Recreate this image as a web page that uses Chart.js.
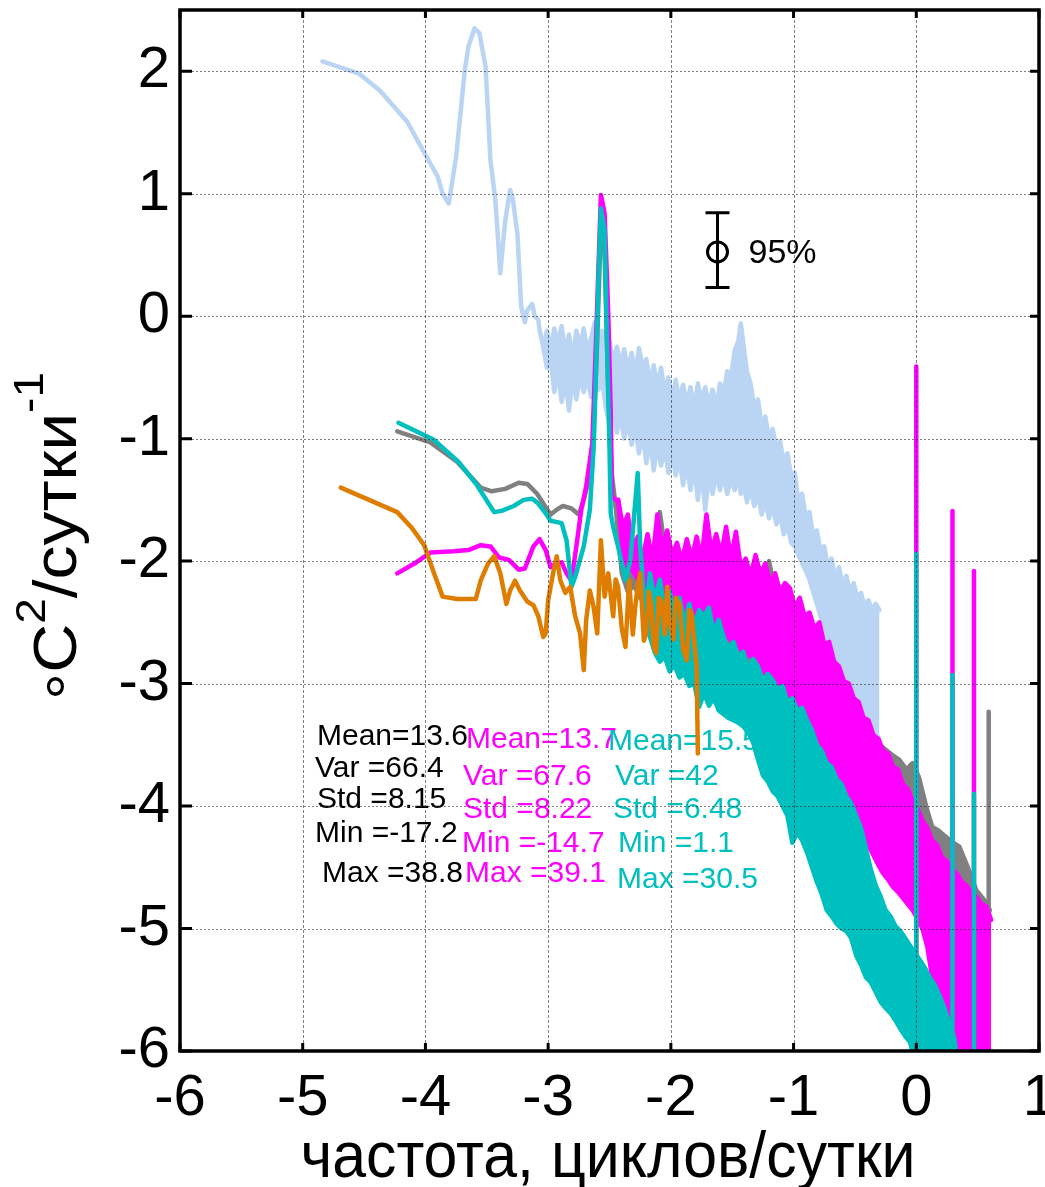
<!DOCTYPE html>
<html>
<head>
<meta charset="utf-8">
<script src="https://cdn.jsdelivr.net/npm/chart.js@4.4.1/dist/chart.umd.min.js"></script>
<style>
  html, body { margin: 0; padding: 0; background: #fff; }
  canvas { display: block; }
</style>
</head>
<body>
<canvas id="spec" width="1045" height="1187"></canvas>
<script>
"use strict";

// ─── Data (log10 frequency vs log10 spectral density) ────────────────────────

const xTicks = [-6, -5, -4, -3, -2, -1, 0, 1];
const yTicks = [-6, -5, -4, -3, -2, -1, 0, 1, 2];
const Y_MIN = -6, Y_MAX = 2.5, X_MIN = -6, X_MAX = 1;

// light blue: smooth low-frequency part, then noisy band (upper / lower edge)
const lbX = [-4.84,-4.54,-4.37,-4.15,-3.99,-3.90,-3.86,-3.81,-3.75,-3.68,-3.65,-3.60,-3.56,-3.51,-3.47,-3.43,-3.39,-3.35,-3.31,-3.29,-3.25,-3.22,-3.19,-3.17,-3.13,-3.11,-3.08,-3.07,-3.04];
const lbY = [2.08,1.98,1.84,1.59,1.30,1.14,1.00,0.92,1.30,2.00,2.20,2.35,2.31,2.04,1.27,0.95,0.35,0.78,1.03,0.97,0.67,0.08,-0.05,0.05,0.10,0.00,-0.03,-0.11,-0.25];
const lbBandX = [-3.04,-3.01,-2.98,-2.95,-2.92,-2.89,-2.86,-2.83,-2.80,-2.77,
                 -2.74,-2.71,-2.68,-2.65,-2.62,-2.59,-2.56,-2.53,-2.50,-2.47,
                 -2.44,-2.41,-2.38,-2.35,-2.32,-2.29,-2.26,-2.23,-2.20,-2.17,
                 -2.14,-2.11,-2.08,-2.05,-2.02,-1.99,-1.96,-1.93,-1.90,-1.87,
                 -1.84,-1.81,-1.78,-1.75,-1.72,-1.69,-1.66,-1.63,-1.60,-1.57,
                 -1.54,-1.51,-1.48,-1.45,-1.43,-1.41,-1.38,-1.35,-1.32,-1.29,
                 -1.26,-1.23,-1.20,-1.17,-1.14,-1.11,-1.08,-1.05,-1.02,-0.99,
                 -0.96,-0.93,-0.90,-0.87,-0.84,-0.81,-0.78,-0.75,-0.72,-0.69,
                 -0.66,-0.63,-0.60,-0.57,-0.54,-0.51,-0.48,-0.45,-0.42,-0.39,
                 -0.36,-0.33,-0.30];
const lbHi = [-0.25,-0.12,-0.28,-0.10,-0.22,-0.08,-0.30,-0.15,-0.35,-0.12,
              -0.25,-0.10,-0.30,-0.18,-0.05,-0.20,-0.12,-0.32,-0.20,-0.38,
              -0.25,-0.40,-0.27,-0.45,-0.30,-0.48,-0.26,-0.42,-0.35,-0.55,
              -0.40,-0.58,-0.42,-0.62,-0.50,-0.68,-0.52,-0.70,-0.56,-0.72,
              -0.58,-0.75,-0.55,-0.70,-0.58,-0.72,-0.60,-0.75,-0.55,-0.62,
              -0.45,-0.50,-0.28,-0.20,-0.06,-0.22,-0.45,-0.55,-0.75,-0.68,
              -0.90,-0.82,-1.00,-0.92,-1.08,-1.02,-1.20,-1.12,-1.30,-1.28,
              -1.52,-1.45,-1.65,-1.60,-1.80,-1.75,-1.92,-1.88,-2.05,-1.98,
              -2.15,-2.05,-2.20,-2.12,-2.25,-2.18,-2.30,-2.26,-2.38,-2.32,
              -2.40,-2.35,-2.40];
const lbLo = [-0.25,-0.42,-0.35,-0.62,-0.45,-0.70,-0.52,-0.77,-0.50,-0.68,
              -0.48,-0.62,-0.50,-0.66,-0.55,-0.60,-0.52,-0.75,-0.88,-0.70,
              -0.95,-0.80,-1.00,-0.85,-1.05,-0.90,-1.12,-0.95,-1.20,-1.00,
              -1.26,-1.05,-1.22,-1.08,-1.28,-1.12,-1.30,-1.15,-1.38,-1.20,
              -1.42,-1.22,-1.50,-1.25,-1.58,-1.30,-1.45,-1.28,-1.42,-1.30,
              -1.45,-1.32,-1.42,-1.30,-1.45,-1.35,-1.52,-1.40,-1.55,-1.45,
              -1.62,-1.50,-1.65,-1.55,-1.70,-1.62,-1.78,-1.70,-1.85,-1.88,
              -1.95,-2.02,-2.08,-2.15,-2.25,-2.35,-2.45,-2.55,-2.65,-2.75,
              -2.82,-2.90,-2.95,-3.00,-3.05,-3.10,-3.15,-3.20,-3.25,-3.30,
              -3.35,-3.40,-3.46];

// gray
const grayX = [-4.23,-3.96,-3.74,-3.55,-3.46,-3.35,-3.24,-3.17,-3.09,-3.02,-2.98,-2.93,-2.88,-2.81,-2.75,-2.71,-2.67,-2.63,-2.60,-2.57,-2.54,-2.51,-2.48,-2.45];
const grayY = [-0.94,-1.03,-1.19,-1.40,-1.43,-1.41,-1.36,-1.37,-1.45,-1.56,-1.62,-1.58,-1.55,-1.57,-1.62,-1.50,-1.34,-0.96,-0.20,0.75,0.50,-0.60,-1.30,-1.55];
const grayBandX = [-2.45,-2.40,-2.35,-2.30,-2.25,-2.20,-2.15,-2.09,-2.04,-1.98,
                   -1.90,-1.80,-1.70,-1.60,-1.50,-1.40,-1.30,-1.20,-1.10,-1.00,
                   -0.90,-0.80,-0.70,-0.60,-0.50,-0.40,-0.30,-0.20,-0.14,-0.08,
                   -0.03,0.02,0.08,0.13,0.18,0.24,0.30,0.35,0.42,0.49,
                   0.54,0.57,0.60];
const grayHi = [-1.55,-1.75,-1.70,-1.85,-1.95,-1.90,-2.00,-1.60,-1.95,-2.00,
                -1.95,-2.05,-2.10,-2.05,-2.15,-2.25,-2.35,-2.00,-2.50,-2.60,
                -2.75,-2.90,-3.05,-3.15,-3.30,-3.40,-3.50,-3.58,-3.62,-3.70,
                -3.65,-3.76,-4.00,-4.17,-4.20,-4.25,-4.30,-4.33,-4.50,-4.69,
                -4.75,-4.79,-4.85];
const grayLo = [-1.55,-2.10,-2.25,-2.20,-2.30,-2.35,-2.40,-2.45,-2.50,-2.55,
                -2.60,-2.70,-2.75,-2.80,-2.85,-2.90,-2.95,-3.00,-3.10,-3.20,
                -3.30,-3.45,-3.65,-3.85,-4.05,-4.25,-4.40,-4.55,-4.60,-4.70,
                -4.75,-4.80,-4.85,-4.90,-4.92,-4.95,-4.95,-4.95,-4.95,-4.95,
                -4.95,-4.95,-4.90];
const graySpikeX = [0.59];
const graySpikeTop = [-3.23];

// magenta
const magX = [-4.23,-4.09,-3.96,-3.77,-3.65,-3.55,-3.47,-3.40,-3.32,-3.24,-3.19,-3.12,-3.07,-3.02,-2.98,-2.94,-2.89,-2.85,-2.81,-2.77,-2.73,-2.69,-2.64,-2.61,-2.57,-2.54,-2.51,-2.49,-2.48,-2.45,-2.43];
const magY = [-2.10,-2.02,-1.93,-1.92,-1.91,-1.87,-1.88,-1.97,-1.99,-2.07,-2.06,-1.88,-1.82,-1.91,-2.05,-2.02,-2.01,-2.10,-2.16,-1.88,-1.58,-1.39,-1.04,-0.20,0.99,0.84,0.02,-0.79,-1.47,-1.50,-1.50];
const magBandX = [-2.43,-2.39,-2.35,-2.31,-2.27,-2.23,-2.19,-2.15,-2.11,-2.07,
                  -2.03,-1.99,-1.95,-1.91,-1.87,-1.83,-1.79,-1.75,-1.71,-1.67,
                  -1.63,-1.59,-1.55,-1.51,-1.47,-1.43,-1.39,-1.35,-1.31,-1.27,
                  -1.23,-1.19,-1.15,-1.11,-1.07,-1.03,-0.99,-0.95,-0.91,-0.87,
                  -0.83,-0.79,-0.75,-0.71,-0.67,-0.63,-0.59,-0.55,-0.51,-0.47,
                  -0.43,-0.39,-0.35,-0.31,-0.27,-0.23,-0.19,-0.15,-0.11,-0.07,
                  -0.03,0.01,0.05,0.09,0.13,0.17,0.21,0.25,0.29,0.33,
                  0.37,0.41,0.45,0.49,0.53,0.57,0.61];
const magHi = [-1.50,-1.72,-1.62,-1.95,-1.80,-1.98,-1.78,-2.00,-1.62,-1.90,
               -1.75,-1.95,-1.85,-2.00,-1.82,-1.98,-1.80,-1.98,-1.62,-1.92,
               -1.78,-1.95,-1.72,-1.98,-1.76,-2.05,-1.98,-2.12,-1.95,-2.10,
               -2.02,-2.18,-2.10,-2.25,-2.18,-2.22,-2.38,-2.30,-2.45,-2.42,
               -2.55,-2.50,-2.68,-2.66,-2.82,-2.86,-2.98,-3.00,-3.12,-3.15,
               -3.28,-3.30,-3.42,-3.45,-3.55,-3.57,-3.68,-3.70,-3.82,-3.86,
               -3.96,-4.02,-4.12,-4.18,-4.28,-4.32,-4.42,-4.45,-4.52,-4.55,
               -4.62,-4.65,-4.72,-4.74,-4.80,-4.82,-4.93];
const magLo = [-1.50,-1.95,-2.05,-2.08,-2.15,-2.22,-2.18,-2.28,-2.25,-2.32,
               -2.35,-2.30,-2.40,-2.38,-2.45,-2.42,-2.48,-2.45,-2.55,-2.52,
               -2.60,-2.58,-2.65,-2.62,-2.70,-2.72,-2.78,-2.76,-2.85,-2.82,
               -2.92,-2.95,-3.02,-3.05,-3.12,-3.18,-3.25,-3.30,-3.38,-3.45,
               -3.50,-3.58,-3.65,-3.72,-3.80,-3.88,-3.95,-4.02,-4.10,-4.18,
               -4.25,-4.32,-4.40,-4.48,-4.55,-4.60,-4.66,-4.70,-4.75,-4.80,
               -4.85,-4.92,-5.00,-5.15,-5.40,-5.45,-5.52,-5.62,-5.77,-5.92,
               -6.20,-6.20,-6.20,-6.20,-6.20,-6.20,-6.20];
const magSpikeX = [0, 0.295, 0.47];
const magSpikeTop = [-0.41, -1.59, -2.08];

// cyan
const cyanX = [-4.22,-3.93,-3.73,-3.58,-3.44,-3.38,-3.28,-3.20,-3.13,-3.08,-3.02,-2.98,-2.89,-2.85,-2.81,-2.78,-2.71,-2.66,-2.63,-2.62,-2.59,-2.57,-2.54,-2.52,-2.50,-2.49,-2.47,-2.43,-2.37,-2.33,-2.27,-2.25,-2.21];
const cyanY = [-0.87,-1.01,-1.19,-1.38,-1.60,-1.59,-1.55,-1.50,-1.49,-1.53,-1.61,-1.67,-1.69,-1.83,-2.21,-2.13,-1.88,-1.58,-1.09,-0.79,0.29,0.88,0.70,-0.25,-1.07,-1.61,-1.72,-1.88,-2.16,-1.99,-1.28,-1.88,-2.43];
const cyanBandX = [-2.21,-2.17,-2.13,-2.09,-2.05,-2.01,-1.97,-1.93,-1.89,-1.85,
                   -1.81,-1.77,-1.73,-1.69,-1.65,-1.61,-1.57,-1.53,-1.49,-1.45,
                   -1.41,-1.37,-1.33,-1.29,-1.25,-1.21,-1.17,-1.13,-1.09,-1.05,
                   -1.01,-0.97,-0.93,-0.89,-0.85,-0.81,-0.77,-0.73,-0.69,-0.65,
                   -0.61,-0.57,-0.53,-0.49,-0.45,-0.41,-0.37,-0.33,-0.29,-0.25,
                   -0.21,-0.17,-0.13,-0.09,-0.05,-0.01,0.03,0.07,0.11,0.15,
                   0.19,0.23,0.27,0.31,0.35];
const cyanHi = [-2.43,-2.10,-2.32,-2.15,-2.40,-2.25,-2.45,-2.30,-2.50,-2.35,
                -2.52,-2.40,-2.45,-2.38,-2.58,-2.48,-2.62,-2.72,-2.66,-2.78,
                -2.74,-2.88,-2.80,-2.86,-2.98,-2.92,-2.97,-3.05,-3.02,-3.15,
                -3.12,-3.22,-3.20,-3.30,-3.38,-3.50,-3.55,-3.65,-3.68,-3.78,
                -3.82,-3.92,-3.98,-4.08,-4.18,-4.35,-4.52,-4.65,-4.74,-4.85,
                -4.90,-4.98,-5.02,-5.08,-5.14,-5.20,-5.26,-5.32,-5.40,-5.46,
                -5.55,-5.65,-5.78,-5.90,-6.20];
const cyanLo = [-2.43,-2.62,-2.75,-2.82,-2.78,-2.90,-2.85,-2.95,-2.92,-3.02,
                -3.00,-3.19,-3.08,-3.18,-3.12,-3.22,-3.25,-3.28,-3.30,-3.32,
                -3.35,-3.40,-3.48,-3.62,-3.75,-3.80,-3.88,-3.92,-4.00,-4.08,
                -4.30,-4.22,-4.28,-4.38,-4.50,-4.62,-4.72,-4.85,-4.90,-4.96,
                -5.00,-5.02,-5.08,-5.22,-5.30,-5.40,-5.44,-5.52,-5.60,-5.65,
                -5.69,-5.75,-5.82,-5.88,-5.93,-6.10,-6.20,-6.20,-6.20,-6.20,
                -6.20,-6.20,-6.20,-6.20,-6.20];
const cyanSpikeX = [0, 0.295, 0.47];
const cyanSpikeTop = [-1.94, -2.93, -3.90];

// orange
const orangeX = [-4.69,-4.23,-4.11,-4.01,-3.93,-3.86,-3.74,-3.59,-3.55,-3.49,
                 -3.44,-3.39,-3.34,-3.31,-3.27,-3.23,-3.17,-3.12,-3.08,-3.04,
                 -3.02,-3.00,-2.96,-2.93,-2.90,-2.86,-2.82,-2.78,-2.74,-2.71,
                 -2.69,-2.66,-2.63,-2.60,-2.57,-2.54,-2.51,
                 -2.47,-2.45,-2.43,-2.40,-2.37,-2.34,-2.31,-2.29,-2.27,-2.25,
                 -2.22,-2.20,-2.18,-2.16,-2.14,-2.12,-2.10,-2.08,-2.05,-2.03,
                 -2.01,-1.98,-1.96,-1.93,-1.90,-1.87,-1.85,-1.83,-1.81,-1.79,
                 -1.78];
const orangeY = [-1.40,-1.60,-1.73,-1.87,-2.10,-2.29,-2.31,-2.31,-2.16,-2.02,
                 -1.96,-2.10,-2.35,-2.24,-2.16,-2.24,-2.33,-2.36,-2.45,-2.62,
                 -2.59,-2.32,-2.10,-1.96,-2.16,-2.26,-2.21,-2.45,-2.59,-2.89,
                 -2.48,-2.24,-2.37,-2.59,-1.83,-2.29,-2.10,
                 -2.45,-2.15,-2.21,-2.55,-2.70,-2.16,-2.60,-2.37,-2.20,-2.10,
                 -2.65,-2.59,-2.25,-2.35,-2.70,-2.75,-2.30,-2.32,-2.60,-2.21,
                 -2.50,-2.64,-2.30,-2.35,-2.72,-2.81,-2.40,-2.43,-2.65,-2.86,
                 -3.57];

// 95% confidence bar
const ebX = [-1.62];
const ebY = [0.525];
const ebLow = [0.235];
const ebHigh = [0.845];

// statistics blocks
const statsBlack   = ["Mean=13.6", "Var =66.4", "Std =8.15", "Min =-17.2", "Max =38.8"];
const statsMagenta = ["Mean=13.7", "Var =67.6", "Std =8.22", "Min =-14.7", "Max =39.1"];
const statsCyan    = ["Mean=15.5", "Var =42",   "Std =6.48", "Min =1.1",   "Max =30.5"];

const xTitle = "частота, циклов/сутки";

// ─── Styles ──────────────────────────────────────────────────────────────────

const C_LB     = "rgb(186,212,243)";
const C_GRAY   = "rgb(128,128,128)";
const C_MAG    = "rgb(255,0,255)";
const C_CYAN   = "rgb(0,191,191)";
const C_ORANGE = "rgb(222,125,0)";
const FONT     = '"Liberation Sans", Arial, sans-serif';
const LW       = 4.5;

// ─── Dataset helpers ─────────────────────────────────────────────────────────

function pts(xs, ys) {
    return xs.map(function(x, i) { return { x: x, y: ys[i] }; });
}

function lineSet(data, color, order) {
    return {
        data: data, borderColor: color, backgroundColor: color,
        borderWidth: LW, pointRadius: 0, tension: 0, fill: false,
        borderJoinStyle: "round", borderCapStyle: "round", order: order
    };
}

// upper edge filled down to the next dataset (lower edge)
function bandSets(xs, hi, lo, color, order) {
    var top = lineSet(pts(xs, hi), color, order);
    top.fill = "+1";
    var bottom = lineSet(pts(xs, lo), color, order);
    return [top, bottom];
}

function spikeSet(xs, tops, color, order) {
    var d = [];
    xs.forEach(function(x, i) {
        d.push({ x: x, y: tops[i] }, { x: x, y: Y_MIN - 0.3 }, { x: x, y: null });
    });
    var s = lineSet(d, color, order);
    s.borderCapStyle = "butt";
    s.spanGaps = false;
    return s;
}

var datasets = [];
datasets.push(lineSet(pts(orangeX, orangeY), C_ORANGE, 1));   // index 0, drawn last
datasets.push(lineSet(pts(cyanX, cyanY), C_CYAN, 2));
datasets = datasets.concat(bandSets(cyanBandX, cyanHi, cyanLo, C_CYAN, 2));
datasets.push(spikeSet(cyanSpikeX, cyanSpikeTop, C_CYAN, 2));
datasets.push(lineSet(pts(magX, magY), C_MAG, 3));
datasets = datasets.concat(bandSets(magBandX, magHi, magLo, C_MAG, 3));
datasets.push(spikeSet(magSpikeX, magSpikeTop, C_MAG, 3));
datasets.push(lineSet(pts(grayX, grayY), C_GRAY, 4));
datasets = datasets.concat(bandSets(grayBandX, grayHi, grayLo, C_GRAY, 4));
datasets.push(spikeSet(graySpikeX, graySpikeTop, C_GRAY, 4));
datasets.push(lineSet(pts(lbX, lbY), C_LB, 5));
datasets = datasets.concat(bandSets(lbBandX, lbHi, lbLo, C_LB, 5));

// ─── Decorations: frame, grid, labels, annotations ───────────────────────────

function drawStats(ctx) {
    var rows = [
        { texts: statsBlack,   color: "#000", pos: [[317,745],[315,777],[317,808],[315,842],[322,882]] },
        { texts: statsMagenta, color: C_MAG,  pos: [[466,748],[463,785],[463,818],[462,852],[465,882]] },
        { texts: statsCyan,    color: C_CYAN, pos: [[608,750],[615,785],[613,818],[618,852],[617,888]] }
    ];
    ctx.save();
    ctx.font = "30px " + FONT;
    ctx.textAlign = "left";
    ctx.textBaseline = "alphabetic";
    rows.forEach(function(r) {
        ctx.fillStyle = r.color;
        r.texts.forEach(function(t, i) { ctx.fillText(t, r.pos[i][0], r.pos[i][1]); });
    });
    ctx.restore();
}

function drawYTitle(ctx) {
    var parts = [
        { t: "°",      size: 62, dy: 14 },
        { t: "C",      size: 62, dy: 0 },
        { t: "2",      size: 42, dy: -31 },
        { t: "/сутки", size: 62, dy: 0 },
        { t: "-1",     size: 42, dy: -33 }
    ];
    ctx.save();
    ctx.translate(76, 700);
    ctx.rotate(-Math.PI / 2);
    var total = 0;
    parts.forEach(function(p) { ctx.font = p.size + "px " + FONT; p.w = ctx.measureText(p.t).width; total += p.w; });
    ctx.scale(328 / total, 1);
    ctx.fillStyle = "#000";
    ctx.textBaseline = "alphabetic";
    ctx.textAlign = "left";
    var x = 0;
    parts.forEach(function(p) {
        ctx.font = p.size + "px " + FONT;
        ctx.fillText(p.t, x, p.dy);
        x += p.w;
    });
    ctx.restore();
}

function drawXTitle(ctx) {
    ctx.save();
    ctx.font = "64px " + FONT;
    var w = ctx.measureText(xTitle).width;
    ctx.translate(608, 1177);
    ctx.scale(615 / w, 1);
    ctx.fillStyle = "#000";
    ctx.textAlign = "center";
    ctx.textBaseline = "alphabetic";
    ctx.fillText(xTitle, 0, 0);
    ctx.restore();
}

const framePlugin = {
    id: "frame",
    beforeDraw: function(chart) {
        var ctx = chart.ctx;
        ctx.save();
        ctx.fillStyle = "#fff";
        ctx.fillRect(0, 0, chart.width, chart.height);
        ctx.restore();
    },
    // text sits above every series except the orange one
    beforeDatasetDraw: function(chart, args) {
        if (args.index === 0) { drawStats(chart.ctx); }
    },
    afterDatasetsDraw: function(chart) {
        var ctx = chart.ctx, a = chart.chartArea;
        var xs = chart.scales.x, ys = chart.scales.y;

        // grid on top of the data
        ctx.save();
        ctx.lineWidth = 1;
        ctx.strokeStyle = "rgba(40,40,40,0.6)";
        ctx.setLineDash([3, 2]);
        xTicks.forEach(function(v) {
            if (v <= X_MIN || v >= X_MAX) { return; }
            var px = Math.round(xs.getPixelForValue(v)) + 0.5;
            ctx.beginPath(); ctx.moveTo(px, a.top); ctx.lineTo(px, a.bottom); ctx.stroke();
        });
        ctx.setLineDash([2, 2]);
        yTicks.forEach(function(v) {
            if (v <= Y_MIN || v >= Y_MAX) { return; }
            var py = Math.round(ys.getPixelForValue(v)) + 0.5;
            ctx.beginPath(); ctx.moveTo(a.left, py); ctx.lineTo(a.right, py); ctx.stroke();
        });
        ctx.restore();

        // 95% bar
        ctx.save();
        var ex = xs.getPixelForValue(ebX[0]), ec = ys.getPixelForValue(ebY[0]);
        var eh = ys.getPixelForValue(ebHigh[0]), el = ys.getPixelForValue(ebLow[0]);
        ctx.strokeStyle = "#000";
        ctx.lineWidth = 3;
        ctx.beginPath();
        ctx.moveTo(ex, eh); ctx.lineTo(ex, el);
        ctx.moveTo(ex - 12, eh); ctx.lineTo(ex + 12, eh);
        ctx.moveTo(ex - 12, el); ctx.lineTo(ex + 12, el);
        ctx.stroke();
        ctx.beginPath();
        ctx.arc(ex, ec, 10, 0, Math.PI * 2);
        ctx.stroke();
        ctx.fillStyle = "#000";
        ctx.font = "34px " + FONT;
        ctx.textAlign = "left";
        ctx.textBaseline = "alphabetic";
        ctx.fillText("95%", ex + 31, ec + 11.5);
        ctx.restore();

        // box and inward ticks
        ctx.save();
        ctx.strokeStyle = "#000";
        ctx.lineWidth = 3.5;
        ctx.strokeRect(a.left, a.top, a.right - a.left, a.bottom - a.top);
        ctx.lineWidth = 3;
        ctx.beginPath();
        xTicks.forEach(function(v) {
            var px = xs.getPixelForValue(v);
            ctx.moveTo(px, a.bottom); ctx.lineTo(px, a.bottom - 8);
            ctx.moveTo(px, a.top); ctx.lineTo(px, a.top + 8);
        });
        yTicks.forEach(function(v) {
            var py = ys.getPixelForValue(v);
            ctx.moveTo(a.left, py); ctx.lineTo(a.left + 12, py);
            ctx.moveTo(a.right, py); ctx.lineTo(a.right - 9, py);
        });
        ctx.stroke();

        // tick labels
        ctx.fillStyle = "#000";
        ctx.font = "58px " + FONT;
        ctx.textAlign = "right";
        ctx.textBaseline = "middle";
        yTicks.forEach(function(v) {
            ctx.fillText(String(v), a.left - 10, ys.getPixelForValue(v));
        });
        ctx.textAlign = "center";
        ctx.textBaseline = "alphabetic";
        xTicks.forEach(function(v) {
            ctx.fillText(String(v), xs.getPixelForValue(v), a.bottom + 64);
        });
        ctx.restore();

        drawXTitle(ctx);
        drawYTitle(ctx);
    }
};

// ─── Chart ───────────────────────────────────────────────────────────────────

new Chart(document.getElementById("spec"), {
    type: "line",
    data: { datasets: datasets },
    plugins: [framePlugin],
    options: {
        responsive: false,
        devicePixelRatio: 1,
        animation: false,
        events: [],
        layout: { padding: { left: 0, right: 6, top: 10, bottom: 0 } },
        plugins: { legend: { display: false }, tooltip: { enabled: false }, title: { display: false } },
        scales: {
            x: {
                type: "linear", min: X_MIN, max: X_MAX,
                ticks: { display: false }, grid: { display: false }, border: { display: false },
                afterFit: function(s) { s.height = 136; }
            },
            y: {
                type: "linear", min: Y_MIN, max: Y_MAX,
                ticks: { display: false }, grid: { display: false }, border: { display: false },
                afterFit: function(s) { s.width = 180; }
            }
        }
    }
});
</script>
</body>
</html>
